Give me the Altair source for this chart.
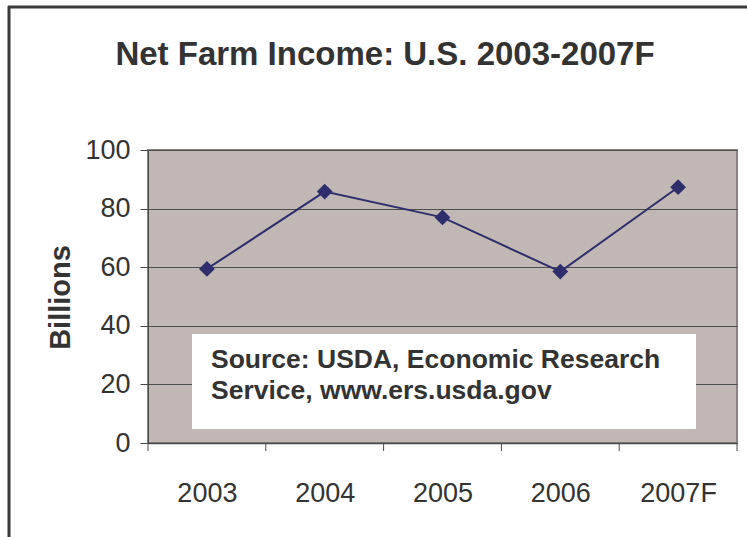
import altair as alt
import pandas as pd

years = ["2003", "2004", "2005", "2006", "2007F"]
income = [59.4, 85.8, 77.0, 58.5, 87.3]
y_ticks = [0, 20, 40, 60, 80, 100]
title_text = "Net Farm Income: U.S. 2003-2007F"
y_title = "Billions"
source_lines = ["Source: USDA, Economic Research", "Service, www.ers.usda.gov"]

ARIAL = "'Liberation Sans', Arial, sans-serif"
TXT = "#333333"
NAVY = "#2e2e6c"

df = pd.DataFrame({"idx": list(range(len(years))), "year": years, "income": income})
bounds = pd.DataFrame({"b": [i - 0.5 for i in range(len(years) + 1)]})

label_expr = "[" + ",".join("'%s'" % y for y in years) + "][datum.value]"

xscale = alt.Scale(domain=[-0.5, len(years) - 0.5], nice=False, zero=False)
yscale = alt.Scale(domain=[0, 100], nice=False)

base = alt.Chart(df)

line = base.mark_line(color=NAVY, strokeWidth=2).encode(
    x=alt.X("idx:Q", scale=xscale, axis=alt.Axis(
        values=list(range(len(years))), labelExpr=label_expr, title=None,
        ticks=False, grid=False, domain=True, domainColor="#4a4a4a", domainWidth=1.5,
        labelFont=ARIAL, labelFontSize=27, labelColor=TXT,
        labelBaseline="middle", labelPadding=50)),
    y=alt.Y("income:Q", scale=yscale, axis=alt.Axis(
        values=y_ticks, title=y_title, titleFont=ARIAL, titleFontSize=29,
        titleFontWeight="bold", titleColor=TXT, titleX=-88, titleY=147,
        titleAngle=-90, titleAlign="center", titleBaseline="middle",
        grid=True, gridColor="#4d4d4d", gridWidth=1,
        tickSize=8, tickColor="#4a4a4a", domain=True, domainColor="#4a4a4a",
        labelFont=ARIAL, labelFontSize=27, labelColor=TXT, labelPadding=10)),
)

points = base.mark_point(shape="diamond", filled=True, size=250, color=NAVY, opacity=1).encode(
    x=alt.X("idx:Q", scale=xscale),
    y=alt.Y("income:Q", scale=yscale),
)

xticks = alt.Chart(bounds).mark_rule(color="#4a4a4a", strokeWidth=1).encode(
    x=alt.X("b:Q", scale=xscale),
    y=alt.value(293),
    y2=alt.value(301),
)

box = alt.Chart(pd.DataFrame({"k": [0]})).mark_rect(color="white").encode(
    x=alt.value(44), x2=alt.value(548), y=alt.value(184), y2=alt.value(279),
)

source = alt.Chart(pd.DataFrame({"t": ["\n".join(source_lines)]})).mark_text(
    align="left", baseline="alphabetic", font=ARIAL, fontSize=26.5, fontWeight="bold",
    color=TXT, lineBreak="\n", lineHeight=31,
).encode(text="t:N", x=alt.value(63), y=alt.value(218))

title = alt.Chart(pd.DataFrame({"t": [title_text]})).mark_text(
    align="center", baseline="alphabetic", font=ARIAL, fontSize=33, fontWeight="bold",
    color=TXT,
).encode(text="t:N", x=alt.value(237), y=alt.value(-85))

frame_top = alt.Chart(pd.DataFrame({"k": [0]})).mark_rule(color="#3a3a3a", strokeWidth=3).encode(
    x=alt.value(-140), x2=alt.value(620), y=alt.value(-143),
)
frame_left = alt.Chart(pd.DataFrame({"k": [0]})).mark_rule(color="#3a3a3a", strokeWidth=3).encode(
    x=alt.value(-139), y=alt.value(-144), y2=alt.value(400),
)

chart = alt.layer(line, points, xticks, box, source, title, frame_top, frame_left).properties(
    width=589, height=293,
    autosize=alt.AutoSizeParams(type="none"),
    padding={"left": 148, "top": 150, "right": 10, "bottom": 94},
    background="white",
).configure_view(
    fill="#c1b7b5", stroke="#8a8383", strokeWidth=2,
)

chart.save("out.html", embed_options={"renderer": "svg", "actions": False})
